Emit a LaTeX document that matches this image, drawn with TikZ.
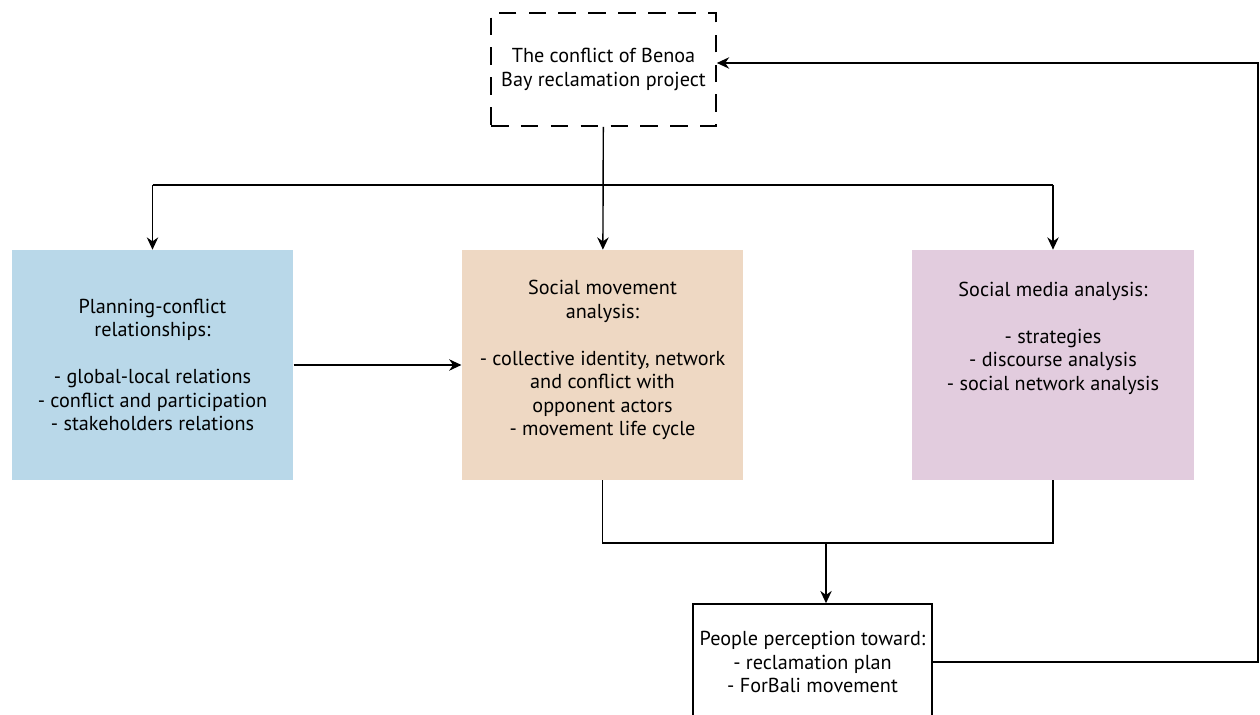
\documentclass[tikz,border=0pt]{standalone}
\usepackage{fontspec}
\setmainfont{PT Sans}
\usepackage{tikz}
\usetikzlibrary{arrows.meta, positioning}
\definecolor{planbg}{RGB}{185,216,233}
\definecolor{movebg}{RGB}{238,216,195}
\definecolor{mediabg}{RGB}{226,204,222}

\begin{document}
\begin{tikzpicture}[x=0.02cm, y=-0.02cm,
    box/.style={rectangle, minimum width=5.63cm, minimum height=4.6cm, align=center, font=\fontsize{11.5}{13.4}\selectfont, inner sep=0pt},
    dashbox/.style={rectangle, draw, line width=1pt, dash pattern=on 10pt off 7pt, minimum width=4.5cm, minimum height=2.26cm, align=center, font=\fontsize{11.5}{13.4}\selectfont},
    outbox/.style={rectangle, draw, line width=0.9pt, minimum width=4.78cm, minimum height=2.32cm, align=center, font=\fontsize{11.5}{13.4}\selectfont},
    arrow/.style={-{Stealth[length=7pt, width=6.5pt]}, line width=0.8pt},
    line/.style={line width=0.8pt}
]
\useasboundingbox (0,0) rectangle (1260,715);

\node[dashbox] (conflict) at (603.5,69.5) {The conflict of Benoa\\Bay reclamation project};
\node[box, fill=planbg] (plan) at (152.5,365) {Planning-conflict\\relationships:\\[13.4pt]- global-local relations\\- conflict and participation\\- stakeholders relations};
\node[box, fill=movebg] (move) at (602.5,365) {};
\node[align=center, font=\fontsize{11.5}{13.4}\selectfont] (movetext) at (602.5,360) {Social movement\\analysis:\\[13.4pt]- collective identity, network\\and conflict with\\opponent actors\\- movement life cycle};
\node[box, fill=mediabg] (media) at (1053,365) {};
\node[align=center, font=\fontsize{11.5}{13.4}\selectfont] (mediatext) at (1053,338) {Social media analysis:\\[13.4pt]- strategies\\- discourse analysis\\- social network analysis};
\node[outbox] (people) at (812.5,662) {People perception toward:\\- reclamation plan\\- ForBali movement};

\coordinate (split) at (603,185);
\coordinate (join) at (826,543);
\coordinate (back) at (1258,63);

\draw[arrow] (conflict) -- (move);
\draw[line] (plan.north |- split) -- (media.north |- split);
\draw[arrow] (plan.north |- split) -- (plan.north);
\draw[arrow] (media.north |- split) -- (media.north);
\draw[arrow] (plan) -- (move);
\draw[line] (move.south) |- (join) -| (media.south);
\draw[arrow] (join) -- (join |- people.north);
\draw[arrow] (people.east) -| (back) -- (conflict.east |- back);

\end{tikzpicture}
\end{document}
